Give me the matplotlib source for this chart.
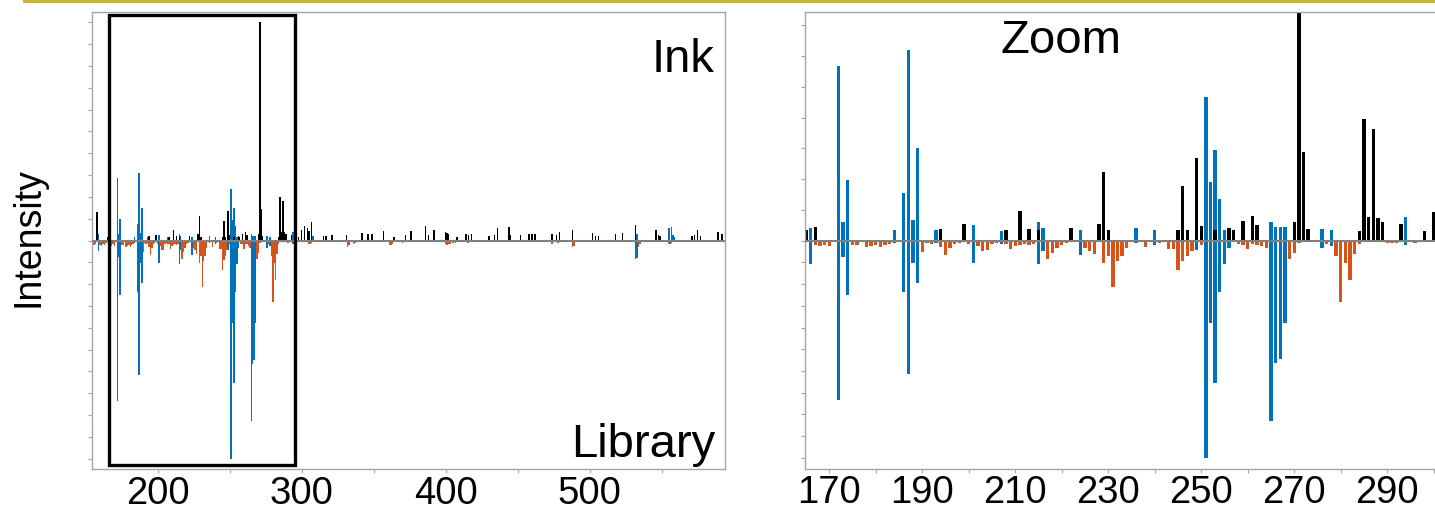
import matplotlib.pyplot as plt
import numpy as np
from matplotlib.patches import Rectangle
from matplotlib.lines import Line2D
from matplotlib.transforms import blended_transform_factory

plt.rcParams['font.family'] = 'Liberation Sans'

# ink peaks with no library match (black, upward)
ink_mz = [158, 165, 167, 194, 199, 208, 211, 213, 215, 222, 228, 229, 230, 245, 246, 247,
          249, 250, 253, 256, 257, 259, 261, 262, 270, 271, 272, 273, 284, 285, 286, 287,
          288, 289, 293, 298, 300, 302, 304, 305, 307, 315, 317, 321, 331, 342, 346, 349,
          357, 364, 372, 376, 386, 388, 392, 400, 401, 402, 408, 414, 416, 418, 430, 434,
          436, 444, 445, 452, 458, 460, 462, 474, 477, 479, 488, 502, 504, 506, 518, 523,
          532, 546, 548, 549, 571, 573, 575, 577, 589, 592]
ink_int = [13, 1.7, 2.2, 1.9, 2.7, 1.8, 4.8, 1.9, 1.7, 2.1, 2.8, 11.2, 1.7, 1.8, 8.9, 1.7,
           13.5, 2.4, 1.8, 2.1, 1.7, 3.2, 4.1, 2.5, 3.0, 100, 14.5, 1.9, 1.6, 19.7, 3.9, 18.1,
           3.7, 3.0, 2.7, 1.6, 4.6, 6.6, 5.8, 4.3, 8.6, 2.0, 2.0, 2.3, 2.3, 3.5, 2.8, 3.0,
           4.3, 1.5, 2.3, 4.3, 6.6, 2.3, 5.0, 4.0, 3.5, 2.8, 1.7, 2.8, 2.3, 2.8, 2.0, 2.3,
           5.5, 6.1, 2.3, 2.3, 2.8, 3.0, 2.8, 2.8, 2.3, 4.0, 5.0, 3.5, 2.0, 2.0, 3.0, 3.5,
           7.3, 4.9, 2.3, 2.0, 2.0, 2.3, 5.0, 2.0, 4.0, 3.0]

# ink peaks matched in the library (blue, upward)
ink_match_mz = [159, 166, 172, 173, 174, 184, 186, 187, 188, 189, 193, 201, 207, 215, 216,
                224, 236, 240, 249, 251, 252, 253, 254, 255, 265, 266, 267, 268, 276, 278,
                294, 308, 533, 555, 557, 558, 559]
ink_match_int = [3.0, 2.0, 28.4, 3.1, 9.9, 1.7, 7.7, 30.9, 3.4, 15.0, 1.7, 2.5, 1.6, 3.1, 2.1,
                 1.8, 2.1, 1.7, 3.4, 23.4, 9.6, 14.7, 6.8, 1.8, 3.0, 2.2, 2.2, 2.2, 1.9, 1.7,
                 3.8, 2.0, 2.8, 5.6, 6.3, 2.3, 1.5]

# library peaks matched in the ink (blue, downward)
lib_match_mz = [159, 166, 172, 173, 174, 184, 186, 187, 188, 189, 193, 201, 207, 215, 216,
                224, 236, 240, 249, 251, 252, 253, 254, 255, 256, 265, 266, 267, 268, 276,
                278, 294, 532, 533, 556]
lib_match_int = [5.0, 10.6, 73.4, 7.5, 24.9, 1.0, 23.8, 61.5, 10.3, 19.5, 1.0, 10.3, 1.7, 10.8,
                 4.5, 6.5, 1.0, 1.8, 4.2, 100, 37.7, 65.4, 23.5, 10.9, 3.4, 82.9, 56.5, 54.6,
                 37.7, 3.4, 2.6, 1.8, 8.6, 8.0, 1.5]

# library peaks with no ink match (orange, downward)
lib_mz = [154, 155, 156, 157, 160, 161, 162, 163, 164, 167, 168, 169, 170, 175, 176, 178,
          179, 180, 181, 182, 183, 190, 191, 192, 194, 195, 196, 197, 198, 200, 202, 203,
          204, 205, 206, 208, 209, 210, 211, 212, 213, 214, 217, 218, 219, 220, 221, 225,
          226, 227, 229, 230, 231, 232, 233, 234, 238, 241, 243, 244, 245, 246, 247, 248,
          250, 258, 259, 260, 261, 262, 263, 264, 269, 270, 271, 277, 279, 280, 281, 282,
          283, 284, 290, 291, 292, 296, 305, 306, 307, 318, 320, 332, 333, 336, 337, 361,
          362, 363, 370, 384, 386, 388, 390, 400, 401, 402, 403, 405, 407, 415, 416, 422,
          441, 458, 461, 463, 474, 478, 488, 489, 502, 516, 518, 534, 535, 555, 557, 566,
          581]
lib_int = [1.5, 2.0, 2.2, 1.8, 2.0, 2.3, 1.5, 2.0, 1.2, 1.8, 2.3, 1.8, 2.3, 2.0, 2.0, 2.9,
           2.3, 2.0, 2.9, 2.0, 1.7, 5.2, 1.0, 1.4, 2.9, 6.6, 3.4, 1.4, 1.1, 1.7, 2.6, 4.5,
           4.2, 1.4, 1.1, 1.7, 3.7, 2.6, 2.0, 1.7, 2.0, 1.4, 8.5, 5.4, 3.4, 1.8, 1.1, 3.4,
           4.5, 6.3, 10.3, 6.9, 21.4, 9.5, 7.0, 3.5, 2.9, 1.0, 3.8, 3.8, 13.4, 9.1, 6.9, 4.5,
           1.8, 1.4, 1.8, 3.8, 1.4, 1.8, 2.3, 3.4, 8.5, 5.7, 1.1, 1.4, 7.2, 28.0, 10.3, 18.3,
           6.0, 1.4, 1.0, 1.0, 0.8, 1.0, 1.5, 1.5, 1.2, 0.6, 0.6, 2.9, 2.0, 1.8, 1.2, 2.1,
           2.1, 1.5, 1.0, 0.6, 0.6, 0.6, 0.6, 1.8, 2.0, 1.8, 1.5, 1.2, 1.0, 1.2, 1.0, 0.8,
           0.6, 0.6, 0.6, 0.6, 1.8, 1.2, 3.1, 2.5, 0.6, 0.8, 0.8, 3.0, 1.5, 1.5, 1.2, 0.6,
           0.6]

ZOOM_BOX = (166.4, 295.3)

BLUE = '#0072BD'
ORANGE = '#D95319'
GREY = '#a6a6a6'

W, H = 1435, 509
fig = plt.figure(figsize=(W / 100, H / 100), dpi=100)


def px_axes(x0, y0, x1, y1):
    return fig.add_axes([x0 / W, 1 - y1 / H, (x1 - x0) / W, (y1 - y0) / H])


def draw(ax, width):
    ax.bar(lib_mz, -np.array(lib_int), width, color=ORANGE, lw=0)
    ax.bar(lib_match_mz, -np.array(lib_match_int), width, color=BLUE, lw=0)
    ax.bar(ink_match_mz, ink_match_int, width, color=BLUE, lw=0)
    ax.bar(ink_mz, ink_int, width, color='black', lw=0)
    ax.axhline(0, color='#808080', lw=1.5, zorder=3)
    for s in ax.spines.values():
        s.set_color(GREY)
        s.set_linewidth(1)
    ax.tick_params(which='both', direction='out', color=GREY, length=3, width=0.8,
                   labelsize=27.5, pad=2)
    ax.tick_params(axis='y', labelleft=False)


ax1 = px_axes(91.7, 11.7, 725, 469.3)
ax2 = px_axes(805, 11.7, 1445, 468.5)

draw(ax1, 1.0)
ax1.set_xlim(154.2, 594)
ax1.set_ylim(-104.8, 104.8)
ax1.set_xticks([200, 300, 400, 500])
ax1.set_xticks([250, 350, 450, 550], minor=True)
ax1.set_yticks(np.arange(-100, 101, 10))

box = Rectangle((ZOOM_BOX[0], 0.0094), ZOOM_BOX[1] - ZOOM_BOX[0], 0.984,
                transform=blended_transform_factory(ax1.transData, ax1.transAxes),
                fill=False, ec='black', lw=2.4, zorder=4, clip_on=False)
ax1.add_patch(box)

# right panel: upper half stretched so the small ink peaks show
K = 2.84
draw(ax2, 0.72)
ax2.set_yscale('function', functions=(lambda y: np.where(y > 0, y * K, y),
                                      lambda y: np.where(y > 0, y / K, y)))
ax2.set_ylim(-105, 37.2)
ax2.set_xlim(164.8, 164.8 + 640 / 4.65)
ax2.set_xticks(np.arange(170, 300, 20))
ax2.set_xticks(np.arange(180, 310, 20), minor=True)
ax2.set_yticks(list(np.arange(-100, 1, 10)) + list(np.arange(5, 36, 5)))

fig.text(715 / W, 1 - 72 / H, 'Ink', ha='right', va='baseline', fontsize=34)
fig.text(715 / W, 1 - 456.7 / H, 'Library', ha='right', va='baseline', fontsize=34)
fig.text(1000 / W, 1 - 53.5 / H, 'Zoom', ha='left', va='baseline', fontsize=34)
fig.text(28 / W, 1 - 237 / H, 'Intensity', rotation=90, ha='center', va='center', fontsize=27)

fig.add_artist(Line2D([24 / W, 1], [1 - 1.2 / H, 1 - 1.2 / H], color='#C8B92D', lw=2.2))

fig.savefig('out.png', dpi=100)
